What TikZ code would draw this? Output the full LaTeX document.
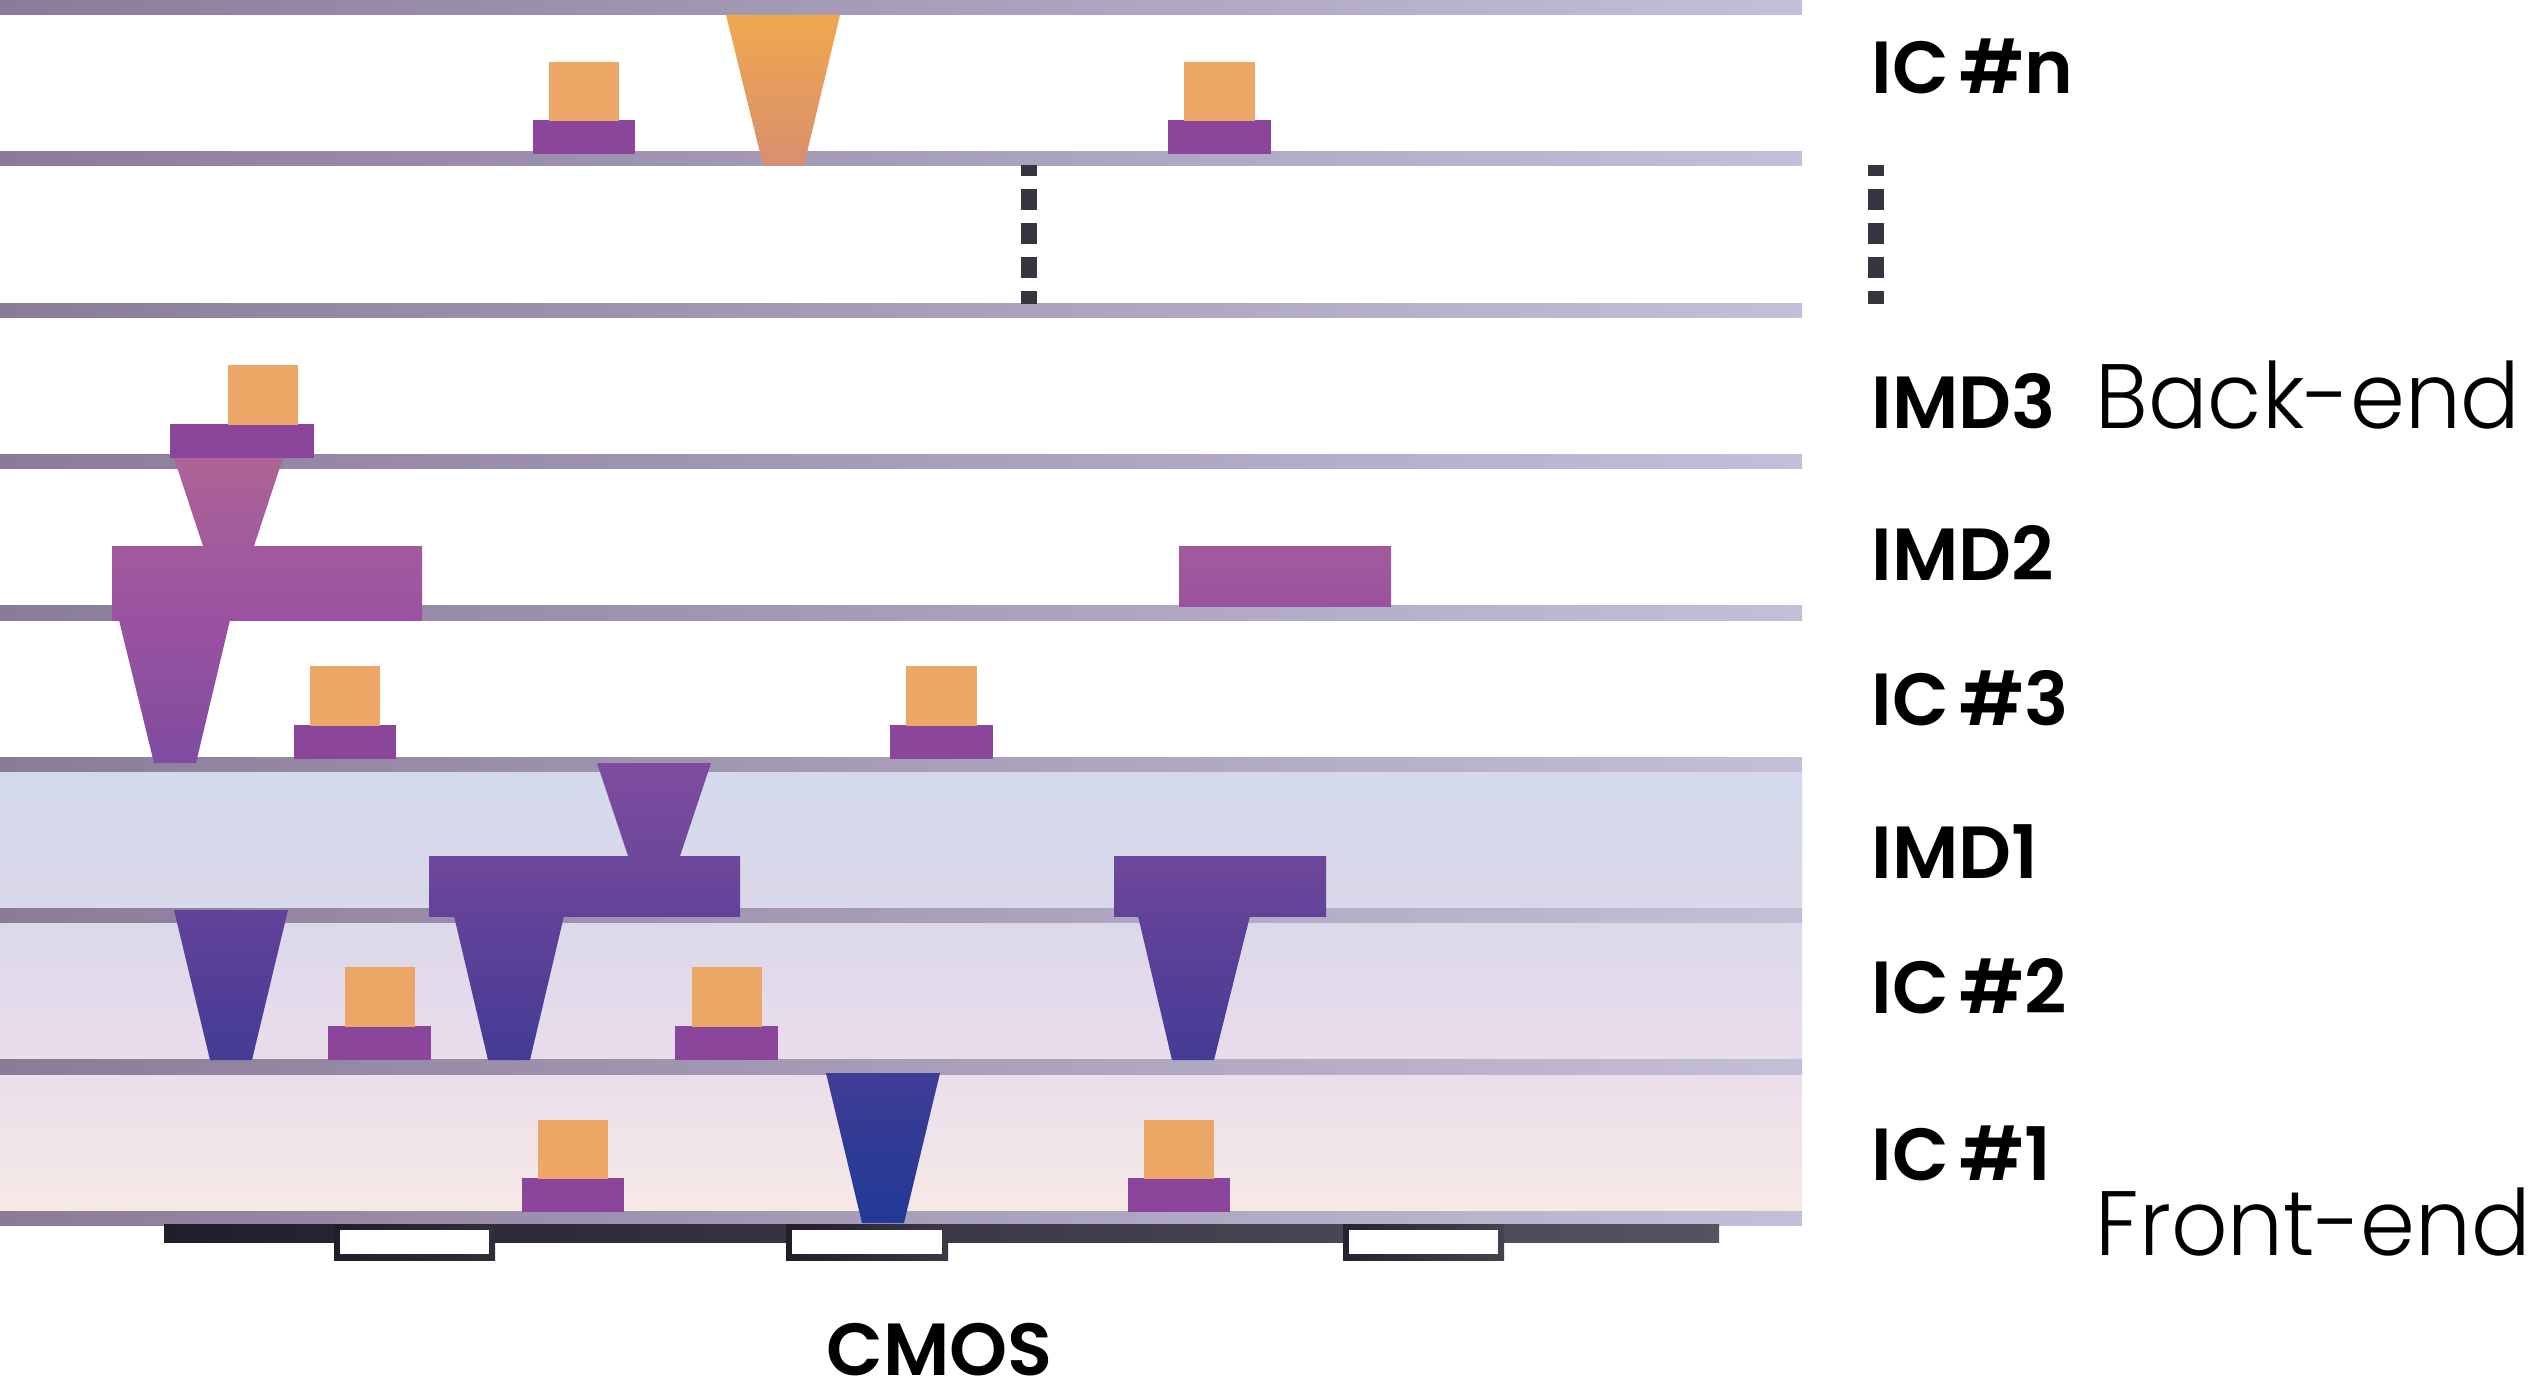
\documentclass[tikz,border=0pt]{standalone}
\usepackage{fontspec}
\setmainfont{Poppins}
\newfontfamily\lightfont[FakeStretch=0.965]{Poppins Light}
\newfontfamily\mediumfont[WordSpace=0.6]{Poppins SemiBold}
\usetikzlibrary{arrows.meta,
                shapes.geometric}

\definecolor{barleft}{HTML}{8A7C99}
\definecolor{barright}{HTML}{C4BFD9}
\definecolor{padpurple}{HTML}{8B459A}
\definecolor{plugorange}{HTML}{ECA666}
\definecolor{darkleft}{HTML}{221D2B}
\definecolor{darkright}{HTML}{55535F}
\definecolor{bandtop}{HTML}{D3D9EB}
\definecolor{bandupper}{HTML}{DAD8E9}
\definecolor{bandmid}{HTML}{EADDEC}
\definecolor{bandlow}{HTML}{F6E9E5}
\definecolor{viaorange}{HTML}{F0A84E}
\definecolor{viapeach}{HTML}{D98F6E}
\definecolor{viarose}{HTML}{AD6495}
\definecolor{viaplum}{HTML}{A25A9E}
\definecolor{viamauve}{HTML}{9A52A0}
\definecolor{viaviolet}{HTML}{7F4C9F}
\definecolor{viagrape}{HTML}{6E489B}
\definecolor{viaindigo}{HTML}{624299}
\definecolor{viadusk}{HTML}{433C95}
\definecolor{vianavy}{HTML}{3F3C95}
\definecolor{viablue}{HTML}{203A96}

\tikzset{
    layerbar/.style={left color=barleft, right color=barright},
    padbox/.style={fill=padpurple},
    plugbox/.style={fill=plugorange},
    levelname/.style={anchor=base west, inner sep=0pt, font=\mediumfont\fontsize{21}{21}\selectfont},
    endname/.style={anchor=base west, inner sep=0pt, font=\lightfont\fontsize{26}{26}\selectfont},
    vdots/.style={line width = 0.16cm, color=darkleft!90!white, dash pattern=on 0.21cm off 0.13cm, dash phase=0.10cm},
}

\begin{document}
\begin{tikzpicture}[x=0.01cm, y=-0.01cm]
    \useasboundingbox (0, 0) rectangle (2534, 1397);

    % filled layers
    \shade [top color=bandtop, bottom color=bandupper] (0, 771) rectangle (1802, 915);
    \shade [top color=bandupper, bottom color=bandmid] (0, 915) rectangle (1802, 1066);
    \shade [top color=bandmid, bottom color=bandlow] (0, 1066) rectangle (1802, 1211);

    % lines between layers
    \shade [layerbar] (0, 0) rectangle (1802, 15);
    \shade [layerbar] (0, 152) rectangle (1802, 166);
    \shade [layerbar] (0, 303) rectangle (1802, 317);
    \shade [layerbar] (0, 454) rectangle (1802, 468);
    \shade [layerbar] (0, 605) rectangle (1802, 620);
    \shade [layerbar] (0, 757) rectangle (1802, 771);
    \shade [layerbar] (0, 908) rectangle (1802, 922);
    \shade [layerbar] (0, 1059) rectangle (1802, 1074);
    \shade [layerbar] (0, 1211) rectangle (1802, 1225);

    % CMOS
    \shade [left color=darkleft, right color=darkright] (164, 1224) rectangle (1719, 1242);
    \shade [left color=darkleft, right color=darkleft!70!darkright] (334, 1224) rectangle (495, 1260);
    \fill [white] (340, 1230) rectangle (489, 1254);
    \shade [left color=darkleft, right color=darkleft!50!darkright] (786, 1224) rectangle (948, 1260);
    \fill [white] (792, 1230) rectangle (942, 1254);
    \shade [left color=darkleft!90!darkright, right color=darkleft!30!darkright] (1343, 1224) rectangle (1504, 1260);
    \fill [white] (1349, 1230) rectangle (1498, 1254);

    % vias and metal
    \shade [top color=viaorange, bottom color=viapeach] (726, 15) -- (840, 15) -- (804, 165) -- (763, 165) -- cycle;
    \shade [top color=viarose, bottom color=viaplum] (174, 458) -- (283, 458) -- (254, 546) -- (203, 546) -- cycle;
    \shade [top color=viaplum, bottom color=viamauve] (112, 546) rectangle (422, 620);
    \shade [top color=viaplum, bottom color=viamauve] (1179, 546) rectangle (1391, 606);
    \shade [top color=viamauve, bottom color=viaviolet] (119, 620) -- (230, 620) -- (196, 763) -- (154, 763) -- cycle;
    \shade [top color=viaviolet, bottom color=viagrape] (597, 763) -- (711, 763) -- (680, 856) -- (628, 856) -- cycle;
    \shade [top color=viagrape, bottom color=viaindigo] (429, 856) rectangle (740, 916);
    \shade [top color=viagrape, bottom color=viaindigo] (1114, 856) rectangle (1326, 916);
    \shade [top color=viaindigo, bottom color=viadusk] (174, 910) -- (288, 910) -- (252, 1060) -- (210, 1060) -- cycle;
    \shade [top color=viaindigo, bottom color=viadusk] (454, 916) -- (564, 916) -- (530, 1060) -- (488, 1060) -- cycle;
    \shade [top color=viaindigo, bottom color=viadusk] (1138, 916) -- (1250, 916) -- (1214, 1060) -- (1172, 1060) -- cycle;
    \shade [top color=vianavy, bottom color=viablue] (826, 1073) -- (940, 1073) -- (904, 1223) -- (862, 1223) -- cycle;

    % pads
    \fill [padbox] (533, 120) rectangle (635, 154);
    \fill [plugbox] (549, 62) rectangle (619, 121);
    \fill [padbox] (1168, 120) rectangle (1271, 154);
    \fill [plugbox] (1184, 62) rectangle (1255, 121);
    \fill [padbox] (170, 424) rectangle (314, 458);
    \fill [plugbox] (228, 365) rectangle (298, 425);
    \fill [padbox] (294, 725) rectangle (396, 759);
    \fill [plugbox] (310, 666) rectangle (380, 726);
    \fill [padbox] (890, 725) rectangle (993, 759);
    \fill [plugbox] (906, 666) rectangle (977, 726);
    \fill [padbox] (328, 1026) rectangle (431, 1060);
    \fill [plugbox] (345, 967) rectangle (415, 1027);
    \fill [padbox] (675, 1026) rectangle (778, 1060);
    \fill [plugbox] (692, 967) rectangle (762, 1027);
    \fill [padbox] (522, 1178) rectangle (624, 1212);
    \fill [plugbox] (538, 1120) rectangle (608, 1179);
    \fill [padbox] (1128, 1178) rectangle (1230, 1212);
    \fill [plugbox] (1144, 1120) rectangle (1214, 1179);

    % dashes
    \draw [vdots] (1029, 165) -- (1029, 304);
    \draw [vdots] (1876, 165) -- (1876, 304);

    \node [levelname] (icn) at (1871, 94) {IC \#n};
    \node [levelname] (imdthree) at (1871, 428) {IMD3};
    \node [levelname] (imdtwo) at (1871, 580) {IMD2};
    \node [levelname] (icthree) at (1871, 725) {IC \#3};
    \node [levelname] (imdone) at (1871, 878) {IMD1};
    \node [levelname] (ictwo) at (1871, 1013) {IC \#2};
    \node [levelname] (icone) at (1871, 1180) {IC \#1};
    \node [levelname] (cmos) at (826, 1375) {CMOS};
    \node [endname] (backend) at (2095, 428) {Back-end};
    \node [endname] (frontend) at (2095, 1255) {Front-end};
\end{tikzpicture}
\end{document}
